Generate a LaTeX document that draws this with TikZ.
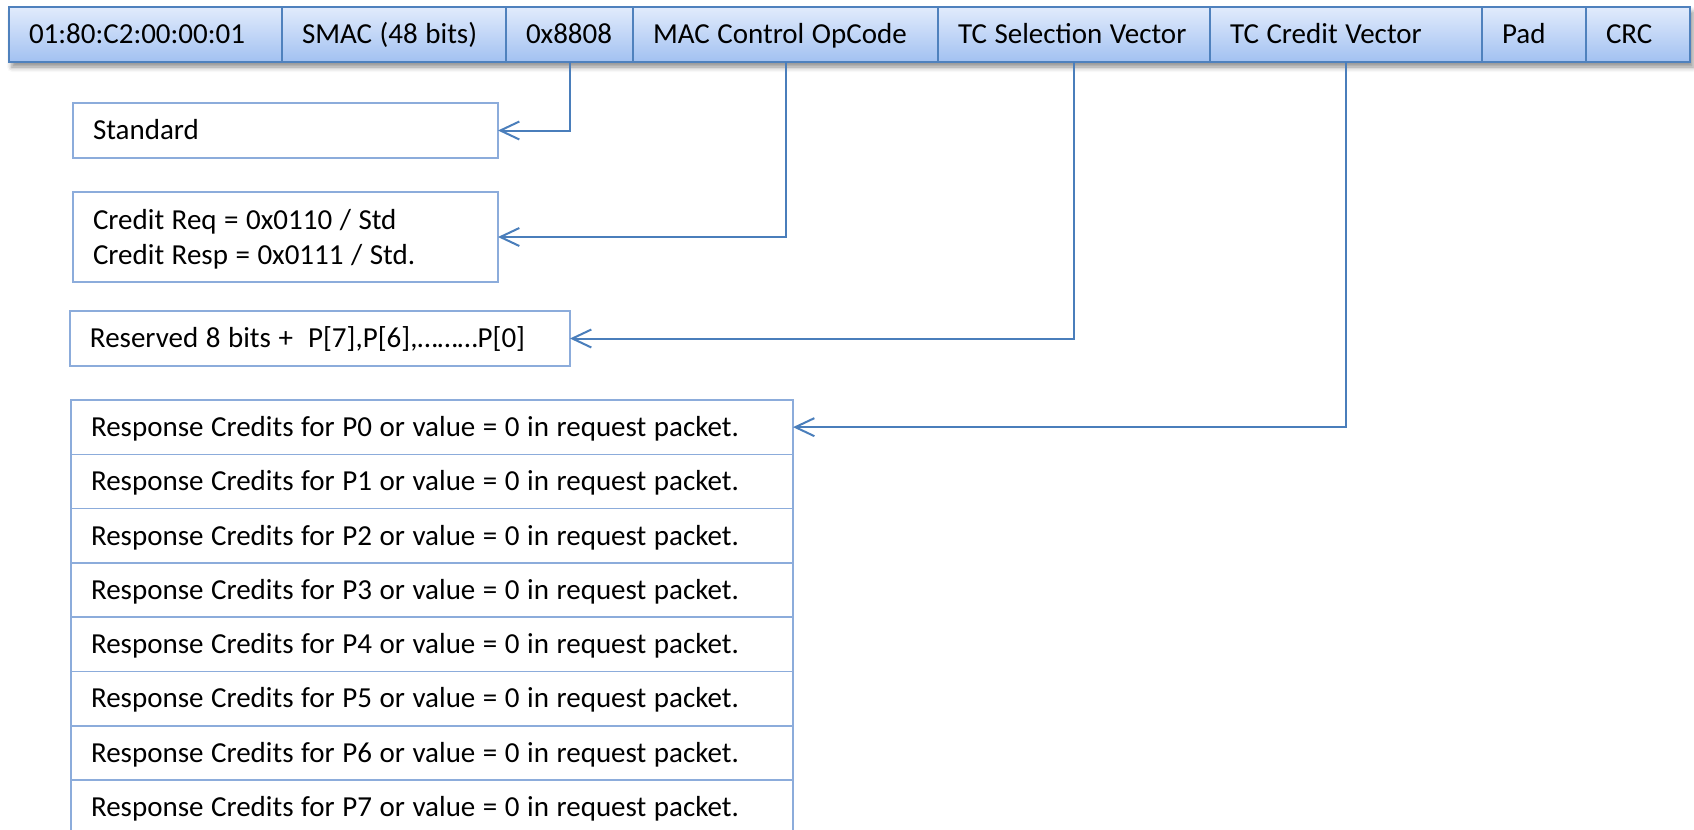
\documentclass[tikz,border=0pt]{standalone}
\usepackage{fontspec}
\setmainfont{Carlito}
\usetikzlibrary{arrows.meta,shadows.blur}

\definecolor{cellline}{RGB}{79,129,189}
\definecolor{celltop}{RGB}{225,235,252}
\definecolor{cellbot}{RGB}{162,193,241}
\definecolor{boxline}{RGB}{140,172,219}
\definecolor{wire}{RGB}{74,126,187}

\begin{document}
\begin{tikzpicture}[x=0.5pt,y=-0.5pt,
  every node/.style={font=\fontsize{14.5pt}{17.5pt}\selectfont, inner sep=0pt, outer sep=0pt,
    execute at begin node={\spaceskip=0.26em plus 0.05em\relax\hyphenpenalty=10000\relax}},
  field/.style={draw=cellline, line width=1pt, top color=celltop, bottom color=cellbot,
    anchor=north west, minimum height=27.5pt, text height=12.3pt, text depth=3pt,
    inner xsep=10pt},
  infobox/.style={draw=boxline, line width=0.75pt, fill=white, anchor=north west,
    minimum height=27.5pt, text height=12.3pt, text depth=3pt, inner xsep=10pt},
  wire/.style={draw=wire, line width=1pt, -{Straight Barb[length=9.5pt,width=9pt]}}]

\useasboundingbox (0,0) rectangle (1694,830);

% shadow under the frame header
\path[fill=white, blur shadow={shadow xshift=1.5pt, shadow yshift=-2.5pt,
  shadow blur radius=2.5pt, shadow opacity=45}] (9,7) rectangle (1690,62);

% frame header fields
\node[field, minimum width=136.5pt, text width=116.5pt] (dmac) at (9,7)    {01:80:C2:00:00:01};
\node[field, minimum width=112pt,   text width=92pt]    (smac) at (282,7)  {SMAC (48 bits)};
\node[field, minimum width=63.5pt,  text width=43.5pt]  (etype) at (506,7) {0x8808};
\node[field, minimum width=152.5pt, text width=132.5pt] (opcode) at (633,7) {MAC Control OpCode};
\node[field, minimum width=136pt,   text width=116pt]   (tcsel) at (938,7) {TC Selection Vector};
\node[field, minimum width=136pt,   text width=116pt]   (tccred) at (1210,7) {TC Credit Vector};
\node[field, minimum width=52pt,    text width=32pt]    (pad) at (1482,7)  {Pad};
\node[field, minimum width=52pt,    text width=32pt]    (crc) at (1586,7)  {CRC};

% field descriptions
\node[infobox, minimum width=212.5pt, text width=192.5pt] (std) at (73,103) {Standard};
\node[infobox, minimum width=212.5pt, minimum height=45pt, text width=192.5pt,
  text height=12.5pt, text depth=20.5pt] (cred) at (73,192)
  {Credit Req = 0x0110 / Std\\Credit Resp = 0x0111 / Std.};
\node[infobox, minimum width=250pt, text width=230pt] (resv) at (70,311)
  {Reserved 8 bits + \ P[7],P[6],………P[0]};

% per-priority credit rows
\foreach \i in {0,...,7}{
  \node[infobox, minimum width=361pt, minimum height=27.15pt, text width=341pt]
    (r\i) at (71,{400+54.3*\i})
    {Response Credits for P\i{} or value = 0 in request packet.};
}

% connectors
\draw[wire] (etype.south) |- (std.east);
\draw[wire] (opcode.south) |- (cred.east);
\draw[wire] (tcsel.south) |- (resv.east);
\draw[wire] (tccred.south) |- (r0.east);

\end{tikzpicture}
\end{document}
